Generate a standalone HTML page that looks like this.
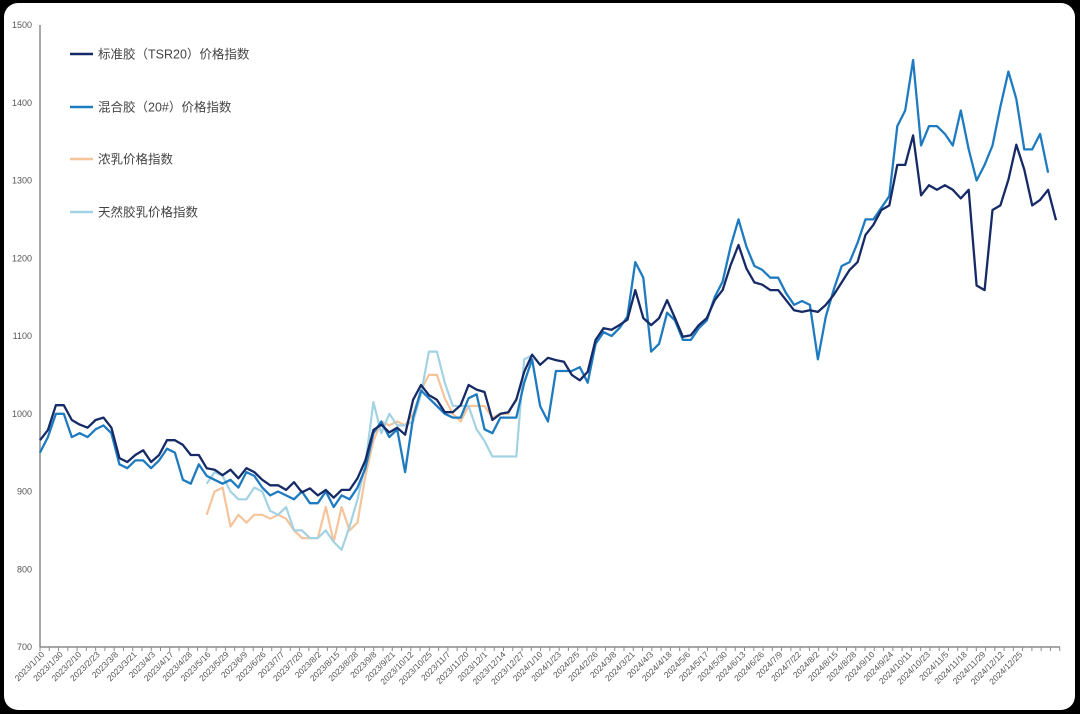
<!DOCTYPE html>
<html><head><meta charset="utf-8"><style>
html,body{margin:0;padding:0;background:#000;}
#wrap{position:relative;width:1080px;height:714px;background:#000;}
#card{position:absolute;left:4px;top:3px;width:1071px;height:707px;background:#fff;border-radius:14px;}
svg{position:absolute;left:0;top:0;}
text{font-family:"Liberation Sans","Noto Sans CJK SC",sans-serif;}
</style></head><body>
<div id="wrap">
<div id="card"></div>
<svg id="chart" width="1080" height="714"></svg>
</div>
<script>
const yTicks=[700,800,900,1000,1100,1200,1300,1400,1500];
const xLabels=["2023/1/10","2023/1/30","2023/2/10","2023/2/23","2023/3/8","2023/3/21","2023/4/3","2023/4/17","2023/4/28","2023/5/16","2023/5/29","2023/6/9","2023/6/26","2023/7/7","2023/7/20","2023/8/2","2023/8/15","2023/8/28","2023/9/8","2023/9/21","2023/10/12","2023/10/25","2023/11/7","2023/11/20","2023/12/1","2023/12/14","2023/12/27","2024/1/10","2024/1/23","2024/2/5","2024/2/26","2024/3/8","2024/3/21","2024/4/3","2024/4/18","2024/5/6","2024/5/17","2024/5/30","2024/6/13","2024/6/26","2024/7/9","2024/7/22","2024/8/2","2024/8/15","2024/8/28","2024/9/10","2024/9/24","2024/10/11","2024/10/23","2024/11/5","2024/11/18","2024/11/29","2024/12/12","2024/12/25"];
const tsr20=[966,979,1011,1011,992,986,982,992,995,982,943,938,947,953,938,947,966,966,960,947,947,930,928,921,928,917,930,925,915,908,908,902,912,899,904,895,902,892,902,902,917,940,979,986,976,982,973,1018,1037,1024,1018,1002,1002,1011,1037,1031,1028,992,1000,1002,1018,1054,1076,1063,1072,1069,1067,1050,1043,1054,1095,1110,1108,1114,1121,1159,1123,1114,1123,1146,1123,1099,1101,1114,1123,1146,1159,1191,1217,1187,1169,1166,1159,1159,1146,1133,1131,1133,1131,1140,1153,1169,1185,1195,1230,1243,1262,1268,1320,1320,1358,1281,1294,1288,1294,1288,1277,1288,1165,1159,1262,1268,1301,1346,1314,1268,1275,1288,1249];
const mix20=[950,970,1000,1000,970,975,970,980,985,975,935,930,940,940,930,940,955,950,915,910,935,920,915,910,915,905,925,920,905,895,900,895,890,900,885,885,900,880,895,890,905,930,975,990,970,980,925,995,1030,1020,1010,1000,995,995,1020,1025,980,975,995,995,995,1040,1070,1010,990,1055,1055,1055,1060,1040,1090,1105,1100,1110,1125,1195,1175,1080,1090,1130,1120,1095,1095,1110,1120,1150,1170,1215,1250,1215,1190,1185,1175,1175,1155,1140,1145,1140,1070,1125,1160,1190,1195,1220,1250,1250,1265,1280,1370,1390,1455,1345,1370,1370,1360,1345,1390,1340,1300,1320,1345,1395,1440,1405,1340,1340,1360,1310];
const latexStart=21;
const latex=[870,900,905,855,870,860,870,870,865,870,865,850,840,840,840,880,835,880,850,860,920,965,990,985,990,985,1000,1030,1050,1050,1020,1000,990,1010,1010,1010,995,1000,1000,1020];
const natStart=21;
const natural=[910,925,920,900,890,890,905,900,875,870,880,850,850,840,840,850,835,825,855,890,935,1015,975,1000,985,985,990,1025,1080,1080,1040,1010,1010,1010,980,965,945,945,945,945,1070,1075];
const N=tsr20.length;
const svg=document.getElementById('chart');
const NS='http://www.w3.org/2000/svg';
const X0=40,X1=1056,Y0=647,Y1=25;
const xs=i=>X0+i*(X1-X0)/(N-1);
const ys=v=>Y0-(v-700)/(1500-700)*(Y0-Y1);
function mk(t,a){const e=document.createElementNS(NS,t);for(const k in a)e.setAttribute(k,a[k]);svg.appendChild(e);return e;}
let e;
e=mk('line',{x1:40,y1:25,x2:40,y2:647,stroke:'#8a8a8a','stroke-width':1.5});


e=mk('line',{x1:40,y1:647,x2:1060,y2:647,stroke:'#8a8a8a','stroke-width':1.5});


yTicks.forEach(v=>{
  e=mk('text',{x:32,y:ys(v)+3,'text-anchor':'end','font-size':9,fill:'#555'});
  e.textContent=v;
  
  
});
for(let k=0;k<=110;k++){
  const x=40+k*9.27;
  if(x>1060)break;
  e=mk('line',{x1:x,y1:647,x2:x,y2:651,stroke:'#8a8a8a','stroke-width':1});
  
  
}
xLabels.forEach((l,i)=>{
  const x=45+i*18.45, y=655;
  e=mk('text',{x:x,y:y,'text-anchor':'end','font-size':8.5,fill:'#555',transform:`rotate(-45 ${x} ${y})`});
  e.textContent=l;
  
  
});
function line(arr,start,color,name,w){
  const d=arr.map((v,j)=>(j?'L':'M')+xs(start+j).toFixed(1)+' '+ys(v).toFixed(1)).join(' ');
  const p=mk('path',{d:d,fill:'none',stroke:color,'stroke-width':w,'stroke-linejoin':'round'});
  
  
}
line(latex,latexStart,'#f5c49a','series-latex',2.2);
line(natural,natStart,'#a3d2e3','series-natural-latex',2.2);
line(mix20,0,'#1f7bc0','series-mixed-20',2.3);
line(tsr20,0,'#152a66','series-tsr20',2.3);
const legend=[['标准胶（TSR20）价格指数','#152a66',54],['混合胶（20#）价格指数','#1f7bc0',107],['浓乳价格指数','#f5c49a',159],['天然胶乳价格指数','#a3d2e3',212]];
legend.forEach(([t,c,y])=>{
  e=mk('line',{x1:70,y1:y,x2:93,y2:y,stroke:c,'stroke-width':2.5});
  
  
  e=mk('text',{x:98,y:y+4.5,'font-size':12.5,fill:'#444'});
  e.textContent=t;
  
  
});
</script>
</body></html>
